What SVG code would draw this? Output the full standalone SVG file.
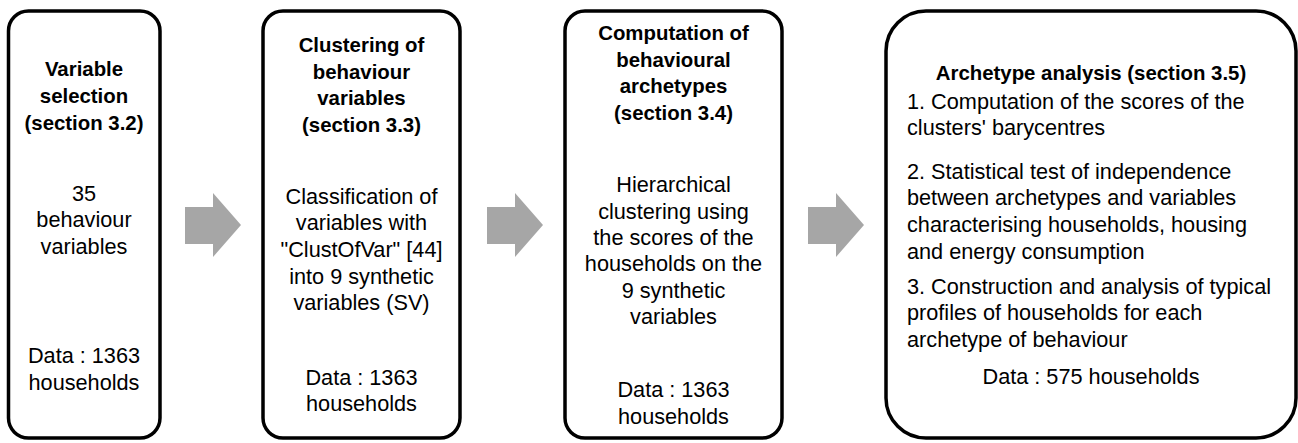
<svg xmlns="http://www.w3.org/2000/svg" width="1298" height="443" viewBox="0 0 1298 443">
<style>
.box{fill:#ffffff;stroke:#000000;stroke-width:3.5}
.arrow{fill:#a6a6a6;stroke:none}
text{font-family:"Liberation Sans",Arial,sans-serif;fill:#000000}
.t{font-size:20.4px;font-weight:bold;text-anchor:middle}
.b{font-size:21.7px;text-anchor:middle}
.l{font-size:21.7px;text-anchor:start}
</style>
<rect width="1298" height="443" fill="#ffffff"/>
<g id="connectors">
<polygon class="arrow" points="185,207 213,207 213,193 241,225 213,257 213,244 185,244"/>
<polygon class="arrow" points="487,207 515,207 515,193 543,225 515,257 515,244 487,244"/>
<polygon class="arrow" points="808,207 836,207 836,193 864,225 836,257 836,244 808,244"/>
</g>
<g id="node1">
<rect class="box" x="8.5" y="11" width="151.5" height="427" rx="20"/>
<text class="t" x="84" y="76">Variable</text>
<text class="t" x="84" y="103">selection</text>
<text class="t" x="84" y="130">(section 3.2)</text>
<text class="b" x="84" y="201">35</text>
<text class="b" x="84" y="227">behaviour</text>
<text class="b" x="84" y="254">variables</text>
<text class="b" x="84" y="363">Data : 1363</text>
<text class="b" x="84" y="390">households</text>
</g>
<g id="node2">
<rect class="box" x="263" y="11" width="197" height="427" rx="20"/>
<text class="t" x="361.5" y="52">Clustering of</text>
<text class="t" x="361.5" y="79">behaviour</text>
<text class="t" x="361.5" y="105">variables</text>
<text class="t" x="361.5" y="132">(section 3.3)</text>
<text class="b" x="361.5" y="204">Classification of</text>
<text class="b" x="361.5" y="230">variables with</text>
<text class="b" x="361.5" y="257">"ClustOfVar" [44]</text>
<text class="b" x="361.5" y="284">into 9 synthetic</text>
<text class="b" x="361.5" y="310">variables (SV)</text>
<text class="b" x="361.5" y="385">Data : 1363</text>
<text class="b" x="361.5" y="411">households</text>
</g>
<g id="node3">
<rect class="box" x="565" y="11" width="217" height="427" rx="20"/>
<text class="t" x="673.5" y="40">Computation of</text>
<text class="t" x="673.5" y="67">behavioural</text>
<text class="t" x="673.5" y="93">archetypes</text>
<text class="t" x="673.5" y="120">(section 3.4)</text>
<text class="b" x="673.5" y="192">Hierarchical</text>
<text class="b" x="673.5" y="219">clustering using</text>
<text class="b" x="673.5" y="245">the scores of the</text>
<text class="b" x="673.5" y="271">households on the</text>
<text class="b" x="673.5" y="298">9 synthetic</text>
<text class="b" x="673.5" y="324">variables</text>
<text class="b" x="673.5" y="397">Data : 1363</text>
<text class="b" x="673.5" y="424">households</text>
</g>
<g id="node4">
<rect class="box" x="886" y="11" width="410" height="427" rx="40"/>
<text class="t" x="1091" y="80">Archetype analysis (section 3.5)</text>
<text class="l" x="907" y="109">1. Computation of the scores of the</text>
<text class="l" x="907" y="135">clusters' barycentres</text>
<text class="l" x="907" y="179">2. Statistical test of independence</text>
<text class="l" x="907" y="205">between archetypes and variables</text>
<text class="l" x="907" y="232">characterising households, housing</text>
<text class="l" x="907" y="259">and energy consumption</text>
<text class="l" x="907" y="294">3. Construction and analysis of typical</text>
<text class="l" x="907" y="320">profiles of households for each</text>
<text class="l" x="907" y="347">archetype of behaviour</text>
<text class="b" x="1091" y="384">Data : 575 households</text>
</g>
</svg>
